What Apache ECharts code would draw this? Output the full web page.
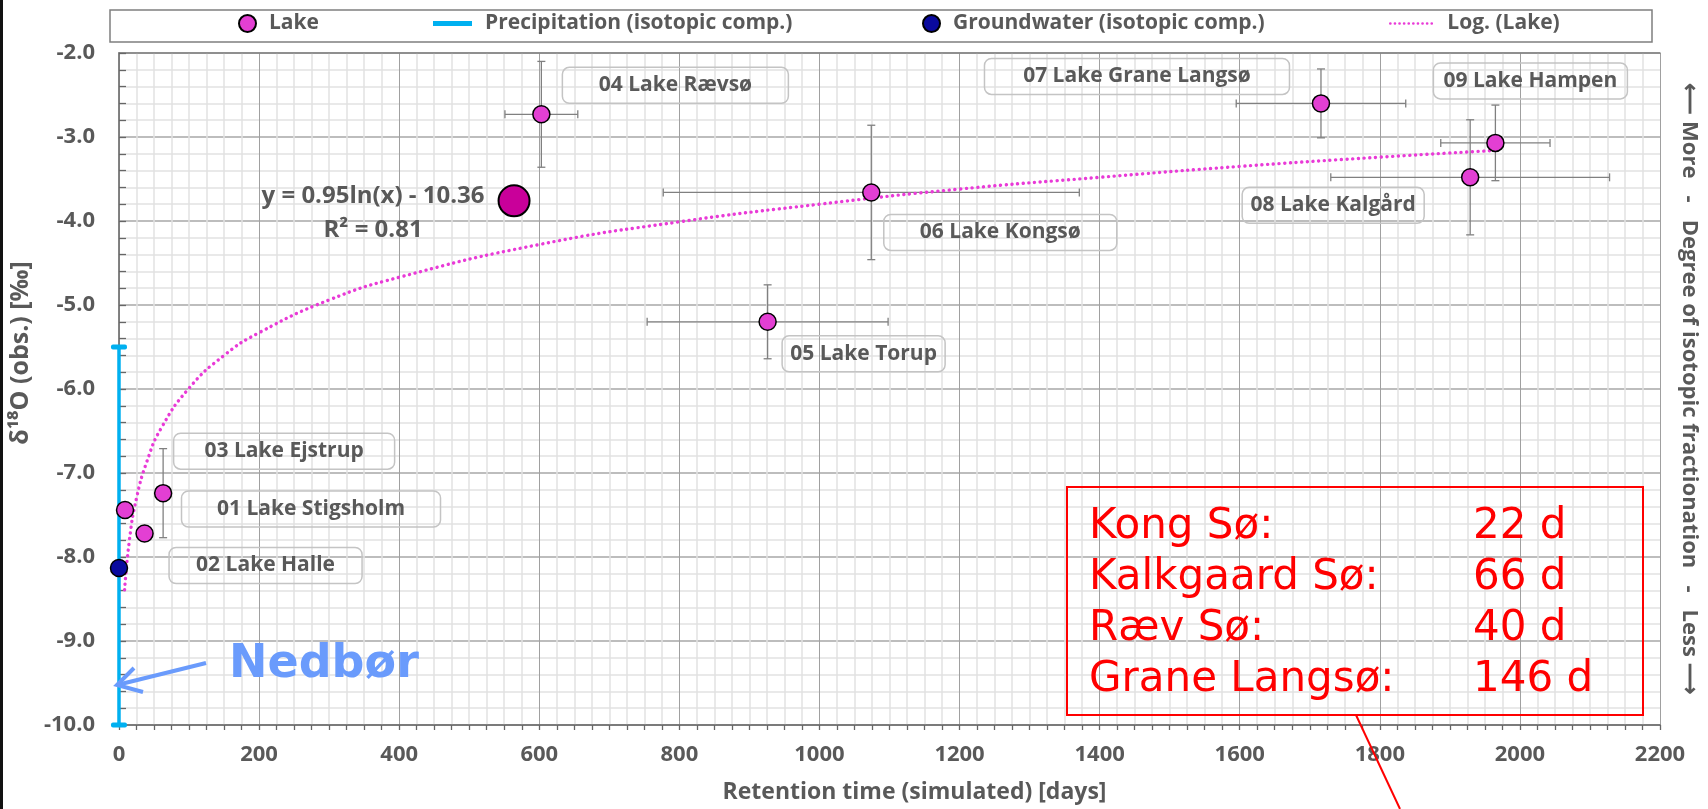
<!DOCTYPE html>
<html>
<head>
<meta charset="utf-8">
<script src="https://cdn.jsdelivr.net/npm/echarts@6/dist/echarts.min.js"></script>
<style>
  html, body { margin: 0; padding: 0; background: #fff; }
  #chart { width: 1708px; height: 809px; }
</style>
</head>
<body>
<div id="chart"></div>
<script>
// lake samples (retention time in days, d18O in permil)
const lakeNames = ['01 Lake Stigsholm', '02 Lake Halle', '03 Lake Ejstrup', '04 Lake Rævsø', '05 Lake Torup',
  '06 Lake Kongsø', '07 Lake Grane Langsø', '08 Lake Kalgård', '09 Lake Hampen'];
const lakeX = [8.6, 36.5, 63, 603, 926, 1074, 1716, 1929, 1965];
const lakeY = [-7.44, -7.72, -7.24, -2.73, -5.20, -3.66, -2.60, -3.48, -3.07];
const lakeXErr = [0, 0, 0, 52, 172, 297, 121, 199, 78];
const lakeYErr = [0, 0, 0.53, 0.63, 0.44, 0.80, 0.41, 0.685, 0.45];

const gwX = [0];
const gwY = [-8.13];

const precipX = [0];
const precipLow = [-10];
const precipHigh = [-5.5];

// log trendline
const trendX = [8, 15, 25, 40, 60, 100, 150, 200, 300, 400, 600, 800, 1000, 1200, 1400, 1600, 1800, 1965];
const trendY = [-8.39, -7.79, -7.30, -6.86, -6.47, -5.99, -5.60, -5.33, -4.94, -4.67, -4.28, -4.01, -3.80, -3.62, -3.48, -3.35, -3.24, -3.16];
const trendText = 'y = 0.95ln(x) - 10.36\nR² = 0.81';

const markX = [564];
const markY = [-3.76];

const boxLakes = ['Kong Sø:', 'Kalkgaard Sø:', 'Ræv Sø:', 'Grane Langsø:'];
const boxDays = ['22 d', '66 d', '40 d', '146 d'];

// label box placement (px, relative to point)
const labelOffsets = [[186, -1], [121, 32], [121, -42], [134, -29], [96, 32], [129, 40], [-184, -27], [-137, 28], [35, -62]];
const labelWidths = [259, 193, 221, 226, 163, 233, 305, 182, 194];

const grey = '#595959';
const font = 'Open Sans';
const trendStyle = { color: '#E93AD7', width: 3.4, type: [0.1, 5.6], cap: 'round' };

const chart = echarts.init(document.getElementById('chart'));

function errorBars(params, api) {
  const x = api.value(0), y = api.value(1), ex = api.value(2), ey = api.value(3);
  const style = { stroke: '#808080', lineWidth: 1.3 };
  const cap = 4;
  const kids = [];
  const line = (x1, y1, x2, y2) => kids.push({ type: 'line', shape: { x1, y1, x2, y2 }, style });
  if (ex > 0) {
    const a = api.coord([x - ex, y]), b = api.coord([x + ex, y]);
    line(a[0], a[1], b[0], b[1]);
    line(a[0], a[1] - cap, a[0], a[1] + cap);
    line(b[0], b[1] - cap, b[0], b[1] + cap);
  }
  if (ey > 0) {
    const a = api.coord([x, y + ey]), b = api.coord([x, y - ey]);
    line(a[0], a[1], b[0], b[1]);
    line(a[0] - cap, a[1], a[0] + cap, a[1]);
    line(b[0] - cap, b[1], b[0] + cap, b[1]);
  }
  return { type: 'group', children: kids };
}

function precipBar(params, api) {
  const top = api.coord([api.value(0), api.value(2)]);
  const bot = api.coord([api.value(0), api.value(1)]);
  const c = '#00B0F0';
  return {
    type: 'group',
    children: [
      { type: 'line', shape: { x1: top[0], y1: top[1], x2: bot[0], y2: bot[1] }, style: { stroke: c, lineWidth: 3.5 } },
      { type: 'rect', shape: { x: top[0] - 8, y: top[1] - 2.5, width: 16, height: 5, r: 2 }, style: { fill: c } },
      { type: 'rect', shape: { x: bot[0] - 8, y: bot[1] - 2.5, width: 16, height: 5, r: 2 }, style: { fill: c } }
    ]
  };
}

const legendText = { color: grey, fontSize: 21, fontWeight: 'bold', fontFamily: font, padding: [0, 0, 0, 8] };

const option = {
  animation: false,
  textStyle: { fontFamily: font },
  grid: { left: 111, right: 46, top: 53, bottom: 79 },
  legend: [
    { data: ['Lake'], left: 238, top: 13, padding: 0, itemWidth: 17, itemHeight: 17, textStyle: legendText },
    { data: [{ name: 'Precipitation (isotopic comp.)', icon: 'rect' }], left: 433, top: 13, padding: 0, itemWidth: 39, itemHeight: 5, textStyle: legendText },
    { data: ['Groundwater (isotopic comp.)'], left: 922, top: 13, padding: 0, itemWidth: 17, itemHeight: 17, textStyle: legendText },
    { data: ['Log. (Lake)'], left: 1389, top: 13, padding: 0, itemWidth: 44, itemHeight: 10, textStyle: legendText,
      itemStyle: { opacity: 0 }, lineStyle: { color: trendStyle.color, width: 2.6, type: [0.1, 4.5], cap: 'round' } }
  ],
  xAxis: [{
    type: 'value', min: 0, max: 2200, interval: 200,
    name: 'Retention time (simulated) [days]', nameLocation: 'middle', nameGap: 56,
    nameTextStyle: { color: grey, fontSize: 23, fontWeight: 'bold', padding: [0, 0, 0, 50] },
    axisLine: { show: true, onZero: false, lineStyle: { color: '#666', width: 1.5 } },
    axisTick: { show: true, inside: false, length: 5, lineStyle: { color: '#666', width: 1.3 } },
    minorTick: { show: true, splitNumber: 8, length: 5, lineStyle: { color: '#666', width: 1.3 } },
    axisLabel: { color: grey, fontSize: 22, fontWeight: 'bold', margin: 19, formatter: v => String(v) },
    splitLine: { show: true, lineStyle: { color: '#A0A0A0', width: 1 } },
    minorSplitLine: { show: true, lineStyle: { color: '#E2E2E2', width: 1.5 } }
  }, {
    type: 'value', position: 'top', min: 0, max: 2200,
    axisLine: { show: true, lineStyle: { color: '#808080', width: 1.5 } },
    axisTick: { show: false }, axisLabel: { show: false }, splitLine: { show: false }
  }],
  yAxis: [{
    type: 'value', min: -10, max: -2, interval: 1,
    name: 'δ¹⁸O (obs.) [‰]', nameLocation: 'middle', nameGap: 70,
    nameTextStyle: { color: grey, fontSize: 25, fontWeight: 'bold', padding: [0, 0, 0, 72] },
    axisLine: { show: true, onZero: false, lineStyle: { color: '#666', width: 1.5 } },
    axisTick: { show: true, inside: true, length: 7, lineStyle: { color: '#666', width: 1.3 } },
    minorTick: { show: true, splitNumber: 5, length: 7, lineStyle: { color: '#666', width: 1.3 } },
    axisLabel: { color: grey, fontSize: 22, fontWeight: 'bold', margin: 24, formatter: v => v.toFixed(1) },
    splitLine: { show: true, lineStyle: { color: '#BDBDBD', width: 2 } },
    minorSplitLine: { show: true, lineStyle: { color: '#E2E2E2', width: 1.5 } }
  }, {
    type: 'value', position: 'right', min: -10, max: -2, interval: 1,
    name: '⟵ More   -   Degree of isotopic fractionation   -   Less ⟶',
    nameLocation: 'middle', nameRotate: -90, nameGap: 18,
    nameTextStyle: { color: grey, fontSize: 22, fontWeight: 'bold' },
    axisLine: { show: true, lineStyle: { color: '#808080', width: 1.5 } },
    axisTick: { show: false }, axisLabel: { show: false }, splitLine: { show: false }
  }],
  series: [
    {
      name: 'errors', type: 'custom', renderItem: errorBars, z: 2,
      encode: { x: 0, y: 1 },
      data: lakeX.map((x, i) => [x, lakeY[i], lakeXErr[i], lakeYErr[i]])
    },
    {
      name: 'Precipitation (isotopic comp.)', type: 'custom', renderItem: precipBar, z: 3,
      itemStyle: { color: '#00B0F0' },
      encode: { x: 0, y: [1, 2] },
      data: precipX.map((x, i) => [x, precipLow[i], precipHigh[i]])
    },
    {
      name: 'Log. (Lake)', type: 'line', smooth: true, symbol: 'none', z: 4,
      lineStyle: trendStyle,
      itemStyle: { color: trendStyle.color },
      data: trendX.map((x, i) => [x, trendY[i]])
    },
    {
      name: 'Lake', type: 'scatter', symbolSize: 17, z: 5,
      itemStyle: { color: '#E33FD3', borderColor: '#000', borderWidth: 1.5, opacity: 1 },
      label: {
        show: true, position: 'inside', formatter: p => lakeNames[p.dataIndex],
        align: 'center', verticalAlign: 'middle', height: 36,
        color: grey, fontSize: 21, fontWeight: 'bold', textBorderWidth: 0,
        borderColor: '#C4C4C4', borderWidth: 1.5, borderRadius: 7
      },
      data: lakeX.map((x, i) => ({ value: [x, lakeY[i]], label: { offset: labelOffsets[i], width: labelWidths[i] } }))
    },
    {
      name: 'Groundwater (isotopic comp.)', type: 'scatter', symbolSize: 17, z: 5,
      itemStyle: { color: '#0A0A9E', borderColor: '#000', borderWidth: 1.5, opacity: 1 },
      data: gwX.map((x, i) => [x, gwY[i]])
    },
    {
      name: 'trend marker', type: 'scatter', symbolSize: 31, z: 5,
      itemStyle: { color: '#C9009A', borderColor: '#000', borderWidth: 2, opacity: 1 },
      label: {
        show: true, position: 'inside', formatter: trendText, offset: [-141, 12],
        align: 'center', verticalAlign: 'middle', lineHeight: 34,
        color: grey, fontSize: 24, fontWeight: 'bold', textBorderWidth: 0
      },
      data: markX.map((x, i) => [x, markY[i]])
    }
  ],
  graphic: [
    { type: 'rect', left: 0, top: 0, shape: { width: 3, height: 809 }, style: { fill: '#111' } },
    { type: 'rect', shape: { x: 110, y: 10, width: 1542, height: 32 }, style: { fill: 'none', stroke: '#7F7F7F', lineWidth: 1.5 }, z: 10 },
    { type: 'rect', shape: { x: 1067, y: 487, width: 576, height: 228 }, style: { fill: 'none', stroke: '#FF0000', lineWidth: 2 }, z: 10 },
    { type: 'line', shape: { x1: 1356, y1: 715, x2: 1400, y2: 809 }, style: { stroke: '#FF0000', lineWidth: 2 }, z: 10 },
    ...boxLakes.map((t, i) => ({ type: 'text', z: 10, style: { text: t, x: 1089, y: 527 + i * 51, verticalAlign: 'middle', fill: '#FF0000', font: '42px "DejaVu Sans"' } })),
    ...boxDays.map((t, i) => ({ type: 'text', z: 10, style: { text: t, x: 1473, y: 527 + i * 51, verticalAlign: 'middle', fill: '#FF0000', font: '42px "DejaVu Sans"' } })),
    { type: 'text', z: 10, style: { text: 'Nedbør', x: 229, y: 665, verticalAlign: 'middle', fill: '#6A9BFC', font: 'bold 46px "DejaVu Sans"' } },
    { type: 'polyline', z: 10, shape: { points: [[206, 663], [117, 685]] }, style: { stroke: '#6A9BFC', lineWidth: 4, fill: 'none' } },
    { type: 'polyline', z: 10, shape: { points: [[143, 692], [117, 685], [134, 668]] }, style: { stroke: '#6A9BFC', lineWidth: 4, fill: 'none', lineJoin: 'miter' } }
  ]
};

chart.setOption(option);
</script>
</body>
</html>
